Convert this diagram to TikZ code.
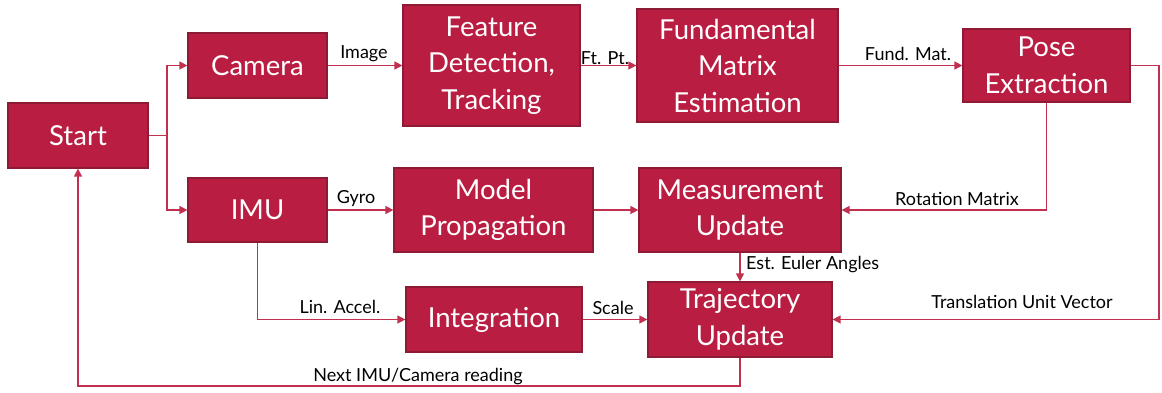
\documentclass[tikz,border=0pt]{standalone}
\usepackage{fontspec}
\setmainfont{Lato}
\usetikzlibrary{arrows.meta}
\definecolor{boxred}{HTML}{B91E42}
\definecolor{boxedge}{HTML}{8E1B36}
\definecolor{linered}{HTML}{C2304F}
\begin{document}
\begin{tikzpicture}[x=1pt,y=-1pt,
  box/.style={draw=boxedge, fill=boxred, line width=1.2pt, text=white,
    font=\fontsize{27.5}{36.5}\selectfont, align=center, inner sep=0pt, anchor=center},
  conn/.style={draw=linered, line width=1.3pt, -{Triangle[length=8pt,width=8pt]}},
  lab/.style={font=\fontsize{18}{20}\selectfont, text=black, inner sep=1pt}]
\useasboundingbox (0,0) rectangle (1162,392);
% boxes
\node[box, minimum width=140, minimum height=65] (start) at (78,135.5) {Start};
\node[box, minimum width=139, minimum height=65] (camera) at (257.5,65.5) {Camera};
\node[box, minimum width=139, minimum height=64] (imu) at (257.5,210) {IMU};
\node[box, minimum width=177, minimum height=121] (feat) at (491.5,65.5) {Feature\\Detection,\\Tracking};
\node[box, minimum width=201, minimum height=113] (fund) at (737.5,65.5) {Fundamental\\Matrix\\Estimation};
\node[box, minimum width=167, minimum height=73] (pose) at (1046.5,65.5) {Pose\\Extraction};
\node[box, minimum width=199, minimum height=84] (model) at (493.5,210) {Model\\Propagation};
\node[box, minimum width=202, minimum height=84] (meas) at (740,210) {Measurement\\Update};
\node[box, minimum width=176, minimum height=65] (integ) at (494,319.5) {Integration};
\node[box, minimum width=184, minimum height=75] (traj) at (740,319.5) {Trajectory\\Update};
% helper coordinates
\coordinate (split) at (167,135.5);
\coordinate (poser) at (1159,65.5);
\coordinate (back) at (740,386);
% connectors
\draw[conn] (start.east) -- (split) |- (camera.west);
\draw[conn] (split) |- (imu.west);
\draw[conn] (camera.east) -- (feat.west);
\draw[conn] (feat.east) -- (fund.west);
\draw[conn] (fund.east) -- (pose.west);
\draw[conn] (pose.east) -- (poser) |- (traj.east);
\draw[conn] (pose.south) |- (meas.east);
\draw[conn] (imu.east) -- (model.west);
\draw[conn] (model.east) -- (meas.west);
\draw[conn] (meas.south) -- (traj.north);
\draw[conn] (imu.south) |- (integ.west);
\draw[conn] (integ.east) -- (traj.west);
\draw[conn] (traj.south) -- (back) -| (start.south);
% labels
\node[lab] (limage) at (364,54) {Image};
\node[lab] (lft) at (605,58) {Ft. Pt.};
\node[lab] (lfund) at (908,54) {Fund. Mat.};
\node[lab] (lrot) at (957,199) {Rotation Matrix};
\node[lab] (ltrans) at (1022,302) {Translation Unit Vector};
\node[lab] (lgyro) at (356,199) {Gyro};
\node[lab, anchor=west] (leuler) at (745,265) {Est. Euler Angles};
\node[lab] (llin) at (340,307) {Lin. Accel.};
\node[lab] (lscale) at (613,308) {Scale};
\node[lab] (lnext) at (418,377) {Next IMU/Camera reading};
\end{tikzpicture}
\end{document}
